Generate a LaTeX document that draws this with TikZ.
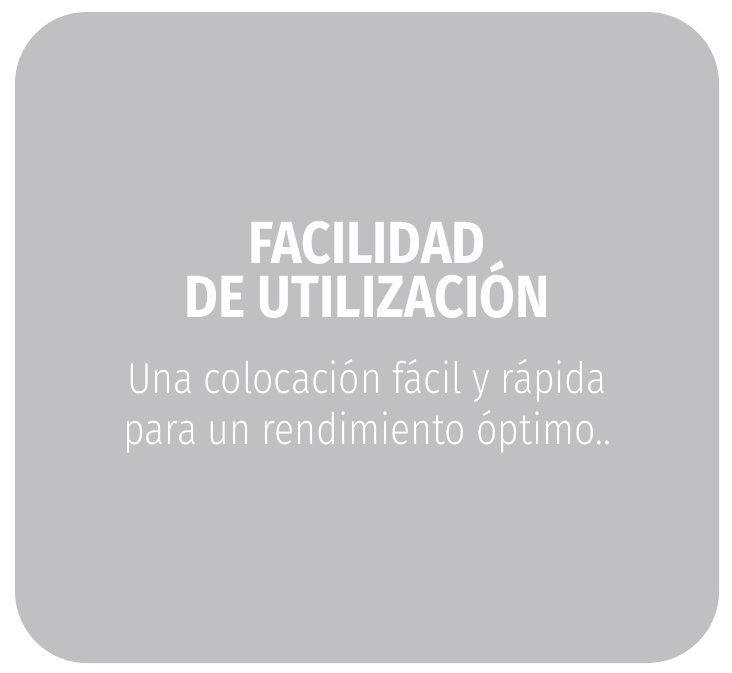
\documentclass[tikz,border=0pt]{standalone}
\usepackage{fontspec}
\newfontfamily\titlefont[FakeStretch=0.87,UprightFont=* Bold]{Fira Sans}
\newfontfamily\subfont[FakeStretch=0.86,UprightFont=* Light]{Fira Sans}
\definecolor{boxgray}{RGB}{192,192,194}
\tikzset{
  title/.style={anchor=base,inner sep=0pt,text=white,font=\titlefont\fontsize{59.5}{60}\selectfont},
  sub/.style={anchor=base,inner sep=0pt,text=white,font=\subfont\fontsize{43.5}{44}\selectfont}
}
\begin{document}
\begin{tikzpicture}[x=1pt,y=-1pt]
\useasboundingbox (0,0) rectangle (732,673);
\fill[boxgray,rounded corners=72pt] (15,12) rectangle (719,663);
\node[title] (t1) at (367,263) {FACILIDAD};
\node[title] (t2) at (367,317) {DE UTILIZACIÓN};
\node[sub] (s1) at (367,393) {Una colocación fácil y rápida};
\node[sub] (s2) at (367,444) {para un rendimiento óptimo..};
\end{tikzpicture}
\end{document}
